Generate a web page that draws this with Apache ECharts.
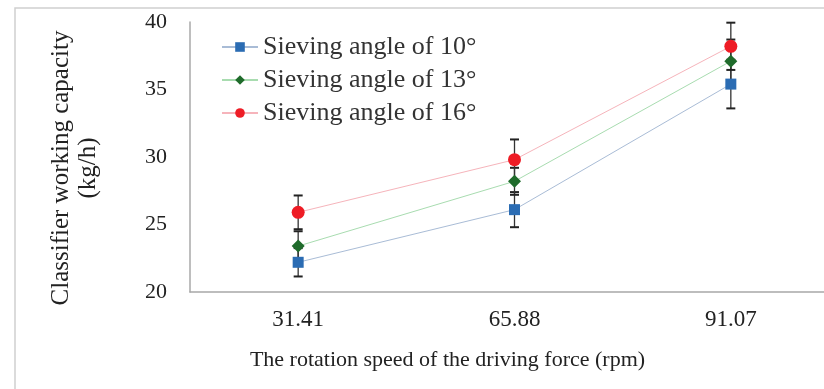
<!DOCTYPE html>
<html lang="en">
<head>
    <meta charset="UTF-8">
    <title>Classifier working capacity</title>
    <script src="https://cdn.jsdelivr.net/npm/echarts@6/dist/echarts.min.js"></script>
    <style>
        body { margin: 0; background: #fff; }
    </style>
</head>
<body>
    <div id="main" style="width: 824px; height: 389px"></div>
    <script>
        // rotation speed (rpm)
        var speeds = ['31.41', '65.88', '91.07'];
        // capacity (kg/h) for each sieving angle
        var angle10 = [22.2, 26.1, 35.4];
        var angle13 = [23.4, 28.2, 37.1];
        var angle16 = [25.9, 29.8, 38.2];
        // standard deviation
        var err10 = [1.05, 1.3, 1.8];
        var err13 = [1.1, 1.0, 1.6];
        var err16 = [1.25, 1.5, 1.75];
        var names = ['Sieving angle of 10°', 'Sieving angle of 13°', 'Sieving angle of 16°'];

        var serif = '"Liberation Serif", "Times New Roman", serif';

        function errData(vals, errs) {
            var res = [];
            for (var i = 0; i < vals.length; i++) {
                res.push([i, vals[i] - errs[i], vals[i] + errs[i]]);
            }
            return res;
        }

        function errSeries(vals, errs) {
            return {
                type: 'custom',
                data: errData(vals, errs),
                z: 1,
                silent: true,
                renderItem: function(params, api) {
                    var lo = api.coord([api.value(0), api.value(1)]);
                    var hi = api.coord([api.value(0), api.value(2)]);
                    var w = 4.5;
                    var cap = { stroke: '#222', lineWidth: 2 };
                    return {
                        type: 'group',
                        children: [
                            { type: 'line', shape: { x1: lo[0], y1: lo[1], x2: hi[0], y2: hi[1] }, style: { stroke: '#333', lineWidth: 1.3 } },
                            { type: 'line', shape: { x1: lo[0] - w, y1: lo[1], x2: lo[0] + w, y2: lo[1] }, style: cap },
                            { type: 'line', shape: { x1: hi[0] - w, y1: hi[1], x2: hi[0] + w, y2: hi[1] }, style: cap }
                        ]
                    };
                }
            };
        }

        function lineSeries(name, vals, color, lineColor, symbol, size) {
            return {
                name: name,
                type: 'line',
                data: vals,
                symbol: symbol,
                symbolSize: size,
                z: 3,
                itemStyle: { color: color },
                lineStyle: { color: lineColor, width: 1 }
            };
        }

        var chart = echarts.init(document.getElementById('main'));
        chart.setOption({
            backgroundColor: '#fff',
            animation: false,
            textStyle: { fontFamily: serif },
            graphic: [{
                type: 'rect',
                shape: { x: 15, y: 8, width: 830, height: 400 },
                style: { fill: 'none', stroke: '#d0d0d0', lineWidth: 1.5 },
                silent: true
            }],
            legend: {
                orient: 'vertical',
                left: 216,
                top: 29,
                itemGap: 7,
                itemWidth: 36,
                itemHeight: 12,
                textStyle: { fontFamily: serif, fontSize: 26, color: '#333' },
                data: names
            },
            // plot runs past the right edge, as in the cropped original
            grid: { left: 190, width: 649, top: 22, bottom: 97, outerBoundsMode: 'none' },
            xAxis: {
                type: 'category',
                data: speeds,
                boundaryGap: true,
                axisLine: { lineStyle: { color: '#a8a8a8', width: 1.5 } },
                axisTick: { show: false },
                axisLabel: { color: '#222', fontSize: 23, fontFamily: serif, margin: 16 },
                name: 'The rotation speed of the driving force (rpm)',
                nameLocation: 'middle',
                nameGap: 57,
                nameTextStyle: { color: '#222', fontSize: 22, fontFamily: serif, padding: [0, 134, 0, 0] }
            },
            yAxis: {
                type: 'value',
                min: 20,
                max: 40,
                interval: 5,
                splitLine: { show: false },
                axisLine: { show: true, lineStyle: { color: '#a8a8a8', width: 1.5 } },
                axisTick: { show: false },
                axisLabel: { color: '#222', fontSize: 22, fontFamily: serif, margin: 23 },
                name: 'Classifier working capacity\n(kg/h)',
                nameLocation: 'middle',
                nameGap: 88,
                nameTextStyle: { color: '#222', fontSize: 25, fontFamily: serif, lineHeight: 27, padding: [0, 22, 0, 0] }
            },
            series: [
                errSeries(angle10, err10),
                errSeries(angle13, err13),
                errSeries(angle16, err16),
                lineSeries(names[0], angle10, '#2b6cb3', '#a9bcd6', 'rect', 11),
                lineSeries(names[1], angle13, '#1f6b2b', '#a8dcb0', 'diamond', 13),
                lineSeries(names[2], angle16, '#ee1c25', '#f6b4bb', 'circle', 13)
            ]
        });
    </script>
</body>
</html>
